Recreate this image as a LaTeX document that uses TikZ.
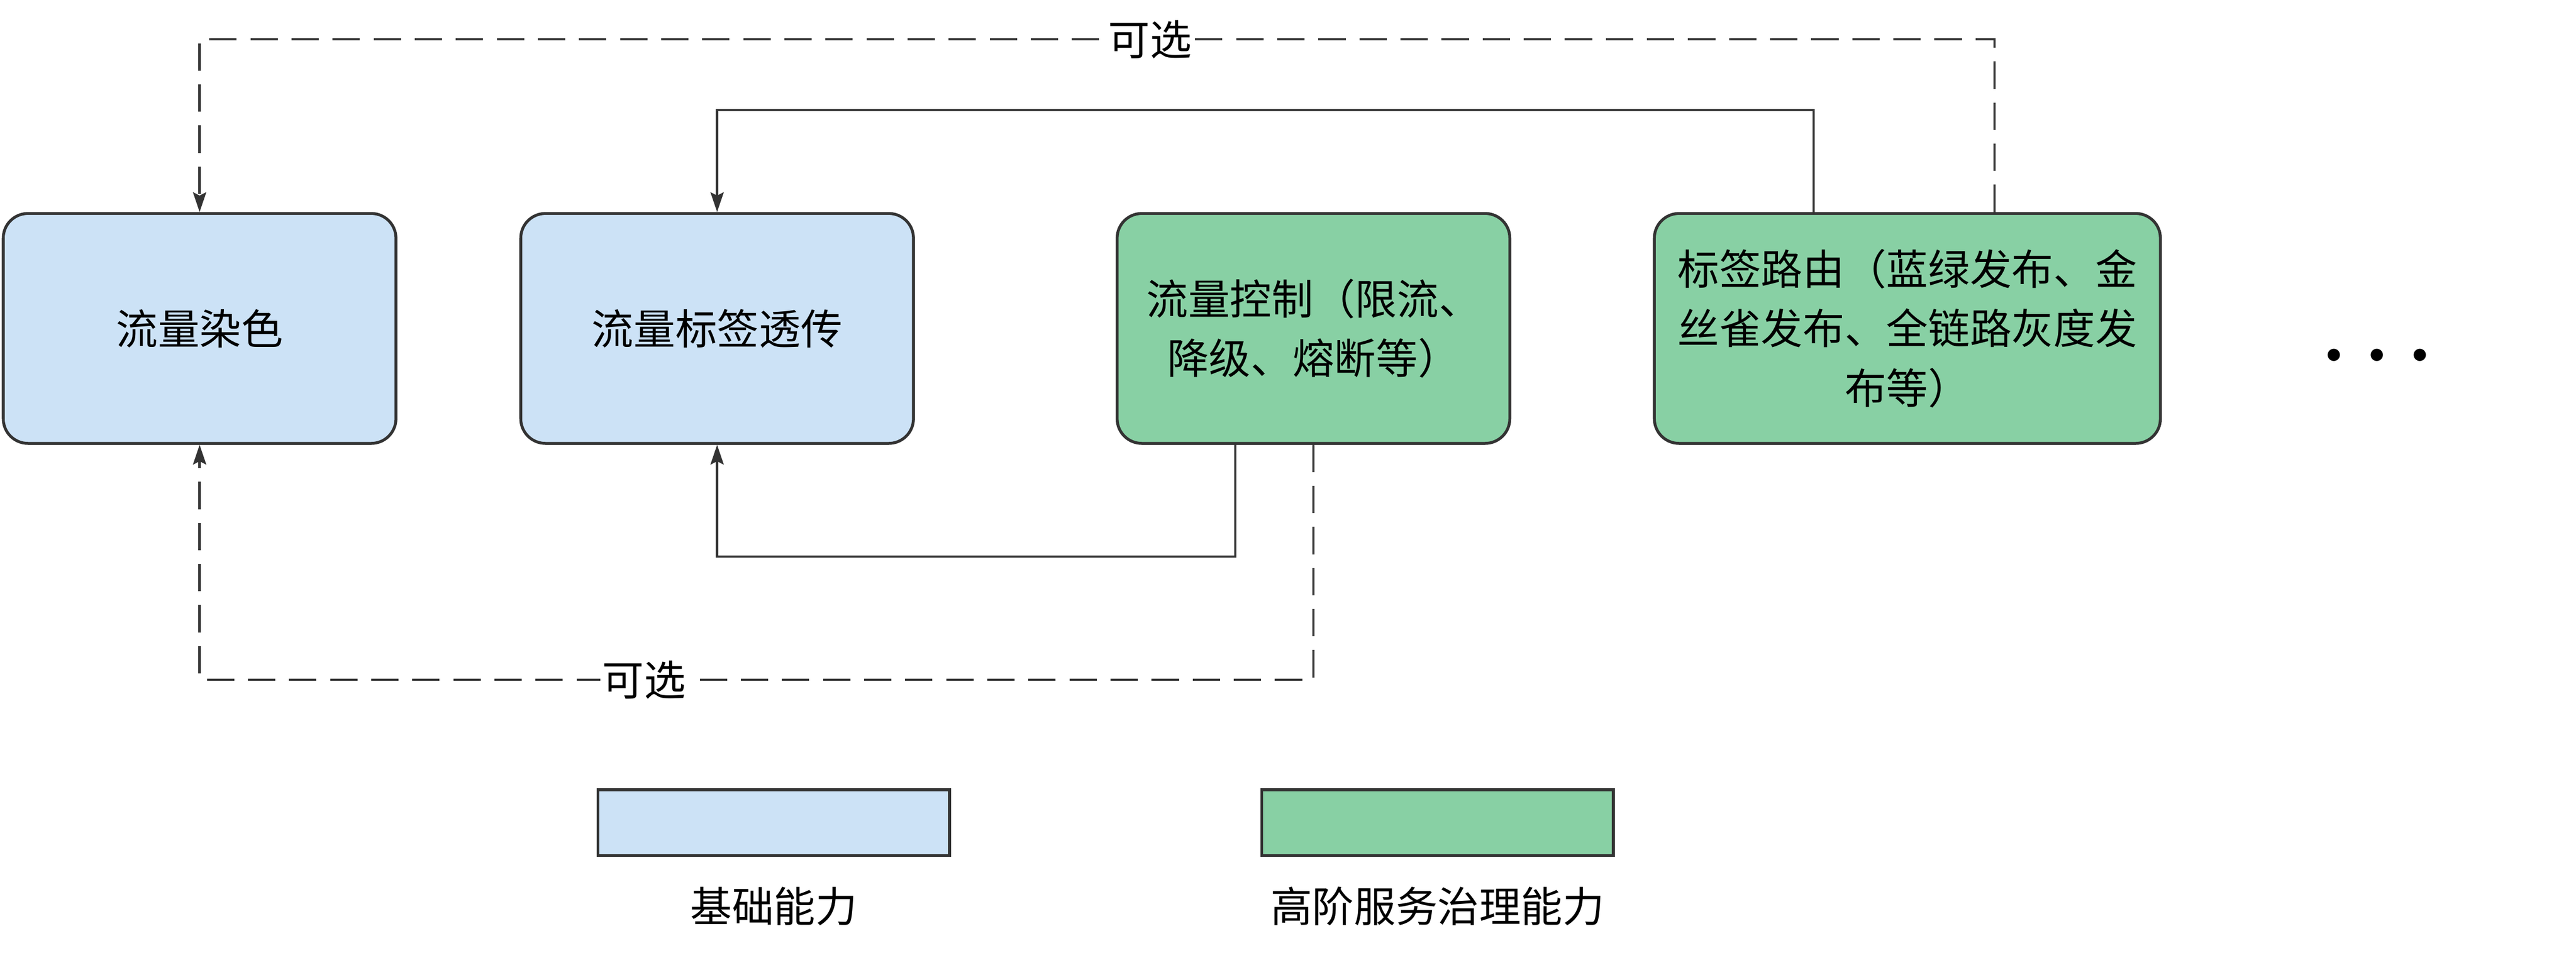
\documentclass[tikz,border=0pt]{standalone}
\usepackage{fontspec}
\setmainfont{Noto Sans CJK SC}
\usetikzlibrary{arrows.meta}

\definecolor{basefill}{HTML}{CCE2F6}
\definecolor{highfill}{HTML}{88D0A4}
\definecolor{edge}{HTML}{333333}

\begin{document}
\begin{tikzpicture}[x=0.03cm, y=-0.03cm,
  txt/.style={font=\fontsize{21.7pt}{31pt}\selectfont, text=black},
  card/.style={txt, draw=edge, line width=1.5pt, rounded corners=0.45cm, minimum width=7.17cm, minimum height=4.2cm, align=center, inner sep=0pt},
  base/.style={card, fill=basefill},
  high/.style={card, fill=highfill},
  swatch/.style={draw=edge, line width=1.5pt, minimum width=6.42cm, minimum height=1.2cm, inner sep=0pt},
  link/.style={draw=edge, line width=1.2pt, -{Stealth[length=0.36cm, width=0.24cm, inset=0.06cm]}},
  optional/.style={link, dash pattern=on 0.5cm off 0.25cm},
  tag/.style={txt, fill=white, inner sep=1pt}]

\useasboundingbox (0,0) rectangle (1568,583.4);

\node(dye) at (121.5, 200) [base] {流量染色};
\node(pass) at (436.5, 200) [base] {流量标签透传};
\node(flow) at (799.5, 200) [high] {流量控制（限流、\\降级、熔断等）};
\node(route) at (1161, 200) [high, minimum width=9.24cm] {标签路由（蓝绿发布、金\\丝雀发布、全链路灰度发\\布等）};
\node(more) at (1447, 221) [txt, font=\fontsize{30pt}{30pt}\selectfont] {•\hspace{-0.27cm}•\hspace{-0.27cm}•};

\coordinate(top1) at (1214, 24);
\coordinate(top2) at (1104, 67);
\coordinate(bot1) at (752, 339);
\coordinate(bot2) at (799.5, 414);

\draw[optional] (route.north -| top1) -- (top1) -| (dye.north);
\draw[link] (route.north -| top2) -- (top2) -| (pass.north);
\draw[link] (flow.south -| bot1) -- (bot1) -| (pass.south);
\draw[optional] (flow.south -| bot2) -- (bot2) -| (dye.south);

\node(opt1) at (700, 24) [tag] {可选};
\node(opt2) at (392, 414) [tag] {可选};

\node(keybase) at (471, 501) [swatch, fill=basefill] {};
\node(keyhigh) at (875, 501) [swatch, fill=highfill] {};
\node(keybasetxt) at (471, 552) [txt] {基础能力};
\node(keyhightxt) at (875, 552) [txt] {高阶服务治理能力};

\end{tikzpicture}
\end{document}
